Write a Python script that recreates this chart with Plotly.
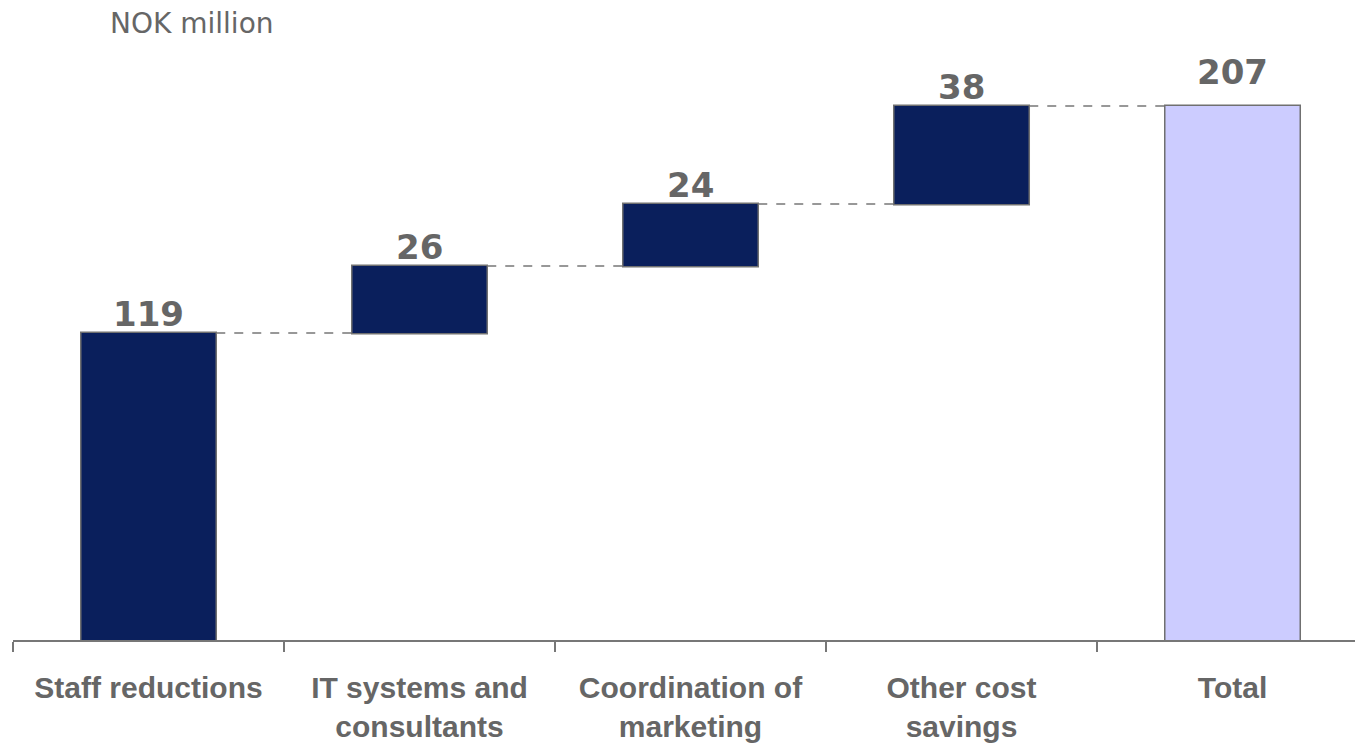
import plotly.graph_objects as go

# Cost savings by source, NOK million
categories = ["Staff reductions", "IT systems and<br>consultants", "Coordination of<br>marketing",
              "Other cost<br>savings", "Total"]
values = [119, 26, 24, 38, 207]
measures = ["relative", "relative", "relative", "relative", "total"]
unit_label = "NOK million"

NAVY = "#0a1f5c"
LILAC = "#ccccff"
EDGE = "#707070"
TEXT_GREY = "#666666"

fig = go.Figure(go.Waterfall(
    x=categories,
    y=values,
    measure=measures,
    width=0.5,
    increasing=dict(marker=dict(color=NAVY, line=dict(color=EDGE, width=1.5))),
    totals=dict(marker=dict(color=LILAC, line=dict(color=EDGE, width=1.5))),
    connector=dict(mode="between", line=dict(color="#777777", width=1.5, dash="dash")),
    hoverinfo="x+y",
))

# value labels above the top edge of each bar
annotations = []
running = 0
for cat, val, meas in zip(categories, values, measures):
    if meas == "total":
        top = running
        lift = 34
    else:
        running += val
        top = running
        lift = 19
    annotations.append(dict(
        x=cat, y=top, xref="x", yref="y",
        text=str(val), showarrow=False,
        xanchor="center", yanchor="middle", yshift=lift,
        font=dict(family="DejaVu Sans", size=34, color=TEXT_GREY, weight="bold"),
    ))

annotations.append(dict(
    text=unit_label,
    xref="paper", yref="paper",
    x=0.0708, y=1.028,
    xanchor="left", yanchor="middle",
    showarrow=False,
    font=dict(family="DejaVu Sans", size=28, color=TEXT_GREY),
))

fig.update_layout(
    width=1355,
    height=746,
    margin=dict(l=13, r=0, t=40, b=106),
    paper_bgcolor="white",
    plot_bgcolor="white",
    showlegend=False,
    xaxis=dict(
        type="category",
        range=[-0.5, 4.452],
        tickson="boundaries",
        ticks="outside",
        ticklen=10,
        tickwidth=1.5,
        tickcolor="#777777",
        showline=True,
        linecolor="#777777",
        linewidth=1.5,
        showgrid=False,
        ticklabelstandoff=20,
        tickfont=dict(family="Liberation Sans", size=30, color=TEXT_GREY, weight="bold"),
    ),
    yaxis=dict(
        range=[0, 232.6],
        visible=False,
        showgrid=False,
        zeroline=False,
    ),
    annotations=annotations,
)

fig.write_html("out.html")
